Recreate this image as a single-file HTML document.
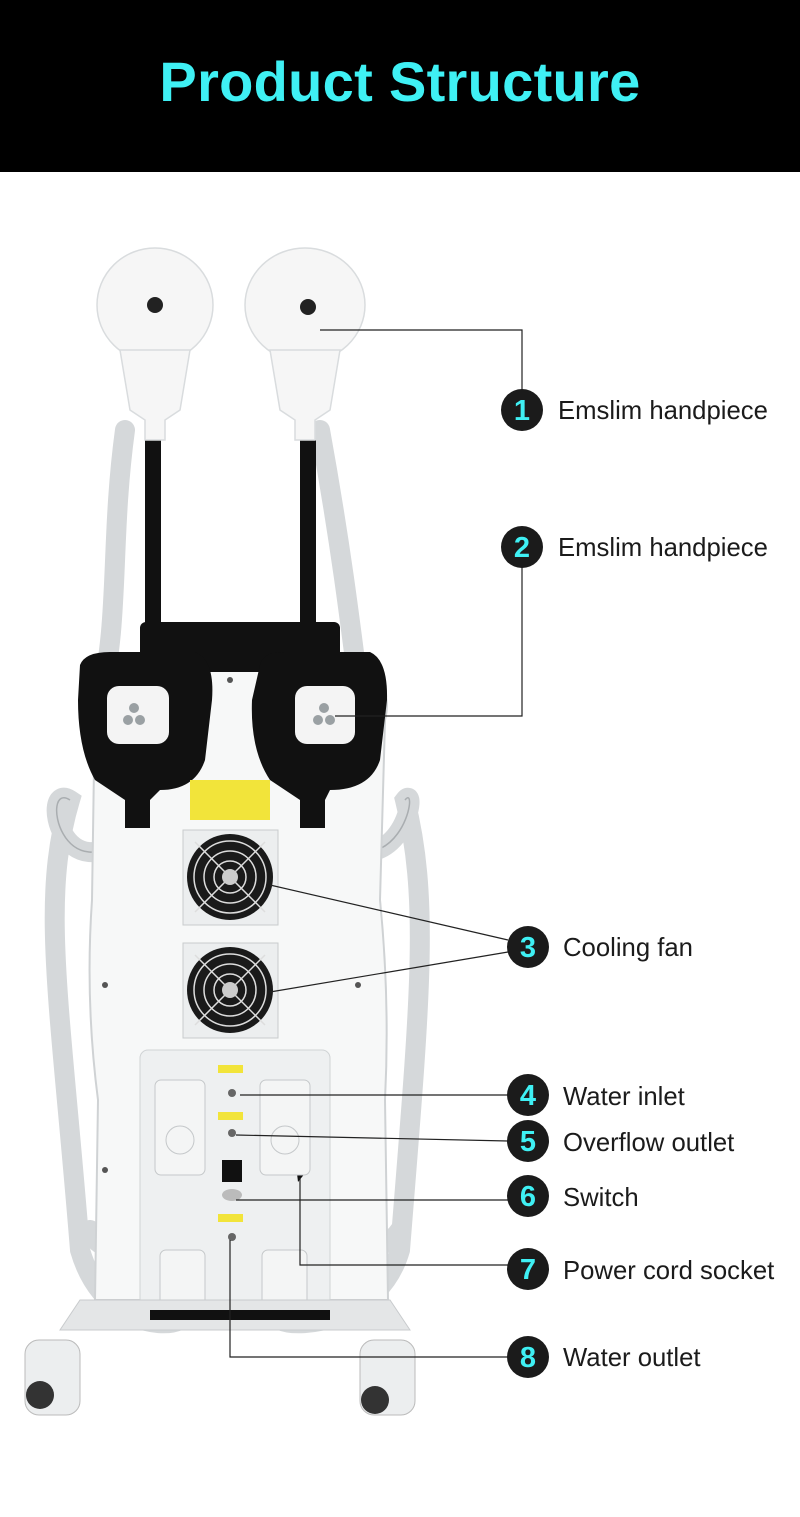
<!DOCTYPE html>
<html><head><meta charset="utf-8"><style>
html,body{margin:0;padding:0;background:#fff;}
body{width:800px;height:1517px;position:relative;overflow:hidden;font-family:"Liberation Sans",sans-serif;}
.hdr{position:absolute;left:0;top:0;width:800px;height:172px;background:#000;}
.ttl{position:absolute;left:0;top:50px;width:800px;text-align:center;color:#3ff0f4;font-weight:bold;font-size:56px;letter-spacing:0.3px;line-height:64px;font-family:"Liberation Sans",sans-serif;}
svg{position:absolute;left:0;top:0;}
</style></head><body>
<div class="hdr"></div>
<div class="ttl">Product Structure</div>
<svg width="800" height="1517" viewBox="0 0 800 1517">
<g fill="none" stroke="#d5d8da" stroke-width="20" stroke-linecap="round">
<path d="M125,430 C110,540 120,620 100,700"/>
<path d="M320,430 C340,540 350,620 360,700"/>
<path d="M135,830 C60,900 40,780 70,800 C40,900 60,1000 80,1250 C100,1320 160,1330 180,1320"/>
<path d="M315,830 C400,900 420,780 405,800 C430,900 420,1000 400,1250 C380,1320 300,1330 280,1320"/>
<path d="M180,1170 C150,1260 100,1260 90,1230"/>
<path d="M290,1170 C320,1260 380,1260 400,1230"/>
</g>
<g fill="none" stroke="#a9adb0" stroke-width="1.5">
<path d="M135,830 C60,900 40,780 70,800"/>
<path d="M315,830 C400,900 420,780 405,800"/>
</g>
<path d="M95,700 Q85,680 120,665 L350,665 Q395,680 385,720 L380,900 Q390,1000 385,1100 L388,1300 L95,1300 L98,1100 Q85,1000 92,900 Z" fill="#f7f8f8" stroke="#cfd2d4" stroke-width="2"/>
<rect x="140" y="1050" width="190" height="260" rx="8" fill="#eef0f1" stroke="#d0d3d5"/>
<rect x="140" y="622" width="200" height="50" rx="6" fill="#111"/>
<rect x="145" y="440" width="16" height="210" fill="#111"/>
<rect x="300" y="440" width="16" height="210" fill="#111"/>
<g fill="#f6f6f6" stroke="#d9dcde" stroke-width="1.5">
<ellipse cx="155" cy="305" rx="58" ry="57"/>
<ellipse cx="305" cy="305" rx="60" ry="57"/>
<path d="M120,350 L190,350 L180,410 L165,420 L165,440 L145,440 L145,420 L130,410 Z"/>
<path d="M270,350 L340,350 L330,410 L315,420 L315,440 L295,440 L295,420 L280,410 Z"/>
</g>
<circle cx="155" cy="305" r="8" fill="#222"/>
<circle cx="308" cy="307" r="8" fill="#222"/>
<path d="M80,665 Q85,652 110,652 L195,652 Q215,660 212,700 L205,760 Q195,790 160,790 L150,800 L150,828 L125,828 L125,800 L95,780 Q78,750 78,700 Z" fill="#111"/>
<path d="M260,665 Q262,652 285,652 L370,652 Q388,660 387,700 L380,760 Q370,790 330,790 L325,800 L325,828 L300,828 L300,800 L270,780 Q250,750 252,700 Z" fill="#111"/>
<rect x="107" y="686" width="62" height="58" rx="12" fill="#f4f4f4"/>
<rect x="295" y="686" width="60" height="58" rx="12" fill="#f4f4f4"/>
<g fill="#9aa0a3"><circle cx="128" cy="720" r="5"/><circle cx="140" cy="720" r="5"/><circle cx="134" cy="708" r="5"/>
<circle cx="318" cy="720" r="5"/><circle cx="330" cy="720" r="5"/><circle cx="324" cy="708" r="5"/></g>
<rect x="190" y="780" width="80" height="40" fill="#f2e43a"/>
<g>
<rect x="183" y="830" width="95" height="95" fill="#eceeef" stroke="#c8cbcd"/>
<circle cx="230" cy="877" r="43" fill="#1a1a1a"/>
<g fill="none" stroke="#ddd" stroke-width="1.5"><circle cx="230" cy="877" r="36"/><circle cx="230" cy="877" r="26"/><circle cx="230" cy="877" r="16"/><path d="M195,842 L265,912 M265,842 L195,912"/></g>
<circle cx="230" cy="877" r="8" fill="#ccc"/>
<rect x="183" y="943" width="95" height="95" fill="#eceeef" stroke="#c8cbcd"/>
<circle cx="230" cy="990" r="43" fill="#1a1a1a"/>
<g fill="none" stroke="#ddd" stroke-width="1.5"><circle cx="230" cy="990" r="36"/><circle cx="230" cy="990" r="26"/><circle cx="230" cy="990" r="16"/><path d="M195,955 L265,1025 M265,955 L195,1025"/></g>
<circle cx="230" cy="990" r="8" fill="#ccc"/>
</g>
<rect x="218" y="1065" width="25" height="8" fill="#f2e43a"/>
<rect x="218" y="1112" width="25" height="8" fill="#f2e43a"/>
<rect x="218" y="1214" width="25" height="8" fill="#f2e43a"/>
<circle cx="232" cy="1093" r="4" fill="#666"/><circle cx="232" cy="1133" r="4" fill="#666"/><circle cx="232" cy="1237" r="4" fill="#666"/>
<rect x="222" y="1160" width="20" height="22" fill="#111"/>
<ellipse cx="232" cy="1195" rx="10" ry="6" fill="#bbb"/>
<path d="M296,1165 L306,1172 L298,1182 Z" fill="#111"/>
<g fill="#f4f5f5" stroke="#c5c8ca">
<rect x="155" y="1080" width="50" height="95" rx="6"/><rect x="260" y="1080" width="50" height="95" rx="6"/>
<rect x="160" y="1250" width="45" height="60" rx="6"/><rect x="262" y="1250" width="45" height="60" rx="6"/>
<circle cx="180" cy="1140" r="14"/><circle cx="285" cy="1140" r="14"/>
</g>
<path d="M80,1300 L390,1300 L410,1330 L60,1330 Z" fill="#e4e6e7" stroke="#c8cbcd"/>
<rect x="150" y="1310" width="180" height="10" fill="#111"/>
<g fill="#eceeef" stroke="#bbb"><rect x="25" y="1340" width="55" height="75" rx="14"/><rect x="360" y="1340" width="55" height="75" rx="14"/></g>
<circle cx="40" cy="1395" r="14" fill="#333"/><circle cx="375" cy="1400" r="14" fill="#333"/>
<g fill="#555"><circle cx="105" cy="985" r="3"/><circle cx="358" cy="985" r="3"/><circle cx="105" cy="1170" r="3"/><circle cx="230" cy="680" r="3"/></g>
<g fill="none" stroke="#222" stroke-width="1.2">
<path d="M320,330 L522,330 L522,392"/>
<path d="M522,567 L522,716 L335,716"/>
<path d="M508,940 L270,885"/>
<path d="M508,952 L270,992"/>
<path d="M508,1095 L240,1095"/>
<path d="M508,1141 L236,1135"/>
<path d="M508,1200 L236,1200"/>
<path d="M508,1265 L300,1265 L300,1178"/>
<path d="M508,1357 L230,1357 L230,1240"/>
</g>
<g fill="#1b1b1b">
<circle cx="522" cy="410" r="21"/><circle cx="522" cy="547" r="21"/><circle cx="528" cy="947" r="21"/>
<circle cx="528" cy="1095" r="21"/><circle cx="528" cy="1141" r="21"/><circle cx="528" cy="1196" r="21"/>
<circle cx="528" cy="1269" r="21"/><circle cx="528" cy="1357" r="21"/>
</g>
<g fill="#3ff0f4" font-family="Liberation Sans, sans-serif" font-weight="bold" font-size="29" text-anchor="middle">
<text x="522" y="420">1</text><text x="522" y="557">2</text><text x="528" y="957">3</text>
<text x="528" y="1105">4</text><text x="528" y="1151">5</text><text x="528" y="1206">6</text>
<text x="528" y="1279">7</text><text x="528" y="1367">8</text>
</g>
<g fill="#1b1b1b" font-family="Liberation Sans, sans-serif" font-size="25.7">
<text x="558" y="419">Emslim handpiece</text>
<text x="558" y="556">Emslim handpiece</text>
<text x="563" y="956">Cooling fan</text>
<text x="563" y="1105">Water inlet</text>
<text x="563" y="1151">Overflow outlet</text>
<text x="563" y="1206">Switch</text>
<text x="563" y="1279">Power cord socket</text>
<text x="563" y="1366">Water outlet</text>
</g>
</svg>
</body></html>
